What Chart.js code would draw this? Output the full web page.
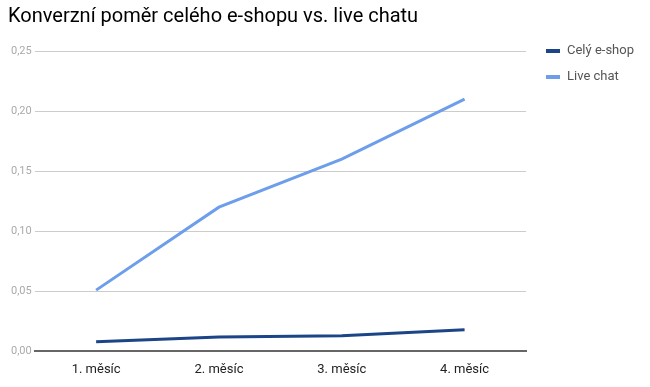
<!DOCTYPE html>
<html>
<head>
<meta charset="utf-8">
<script src="https://cdn.jsdelivr.net/npm/chart.js@4"></script>
<style>
  html, body { margin: 0; padding: 0; background: #fff; }
  #wrap { width: 650px; height: 387px; }
</style>
</head>
<body>
<div id="wrap"><canvas id="chart"></canvas></div>
<script>
// data
const mesice = ["1. měsíc", "2. měsíc", "3. měsíc", "4. měsíc"];
const celyEshop = [0.008, 0.012, 0.013, 0.018];
const liveChat = [0.051, 0.12, 0.16, 0.21];
const yTicks = [0, 0.05, 0.10, 0.15, 0.20, 0.25];

// legenda vpravo, vykreslena rucne
const pravaLegenda = {
    id: "pravaLegenda",
    afterDraw(chart) {
        const c = chart.ctx;
        c.save();
        c.font = "13px Roboto";
        c.textBaseline = "middle";
        chart.data.datasets.forEach((ds, i) => {
            const y = 51 + i * 26;
            c.fillStyle = ds.borderColor;
            c.fillRect(546, y - 2, 14, 4);
            c.fillStyle = "#555";
            c.fillText(ds.label, 567, y);
        });
        c.restore();
    }
};

const ctx = document.getElementById("chart").getContext("2d");

new Chart(ctx, {
    type: "line",
    data: {
        labels: mesice,
        datasets: [{
            label: "Celý e-shop",
            data: celyEshop,
            borderColor: "#1c4587",
            borderWidth: 3,
            pointRadius: 0,
            tension: 0
        }, {
            label: "Live chat",
            data: liveChat,
            borderColor: "#6d9eeb",
            borderWidth: 3,
            pointRadius: 0,
            tension: 0
        }]
    },
    options: {
        responsive: true,
        maintainAspectRatio: false,
        animation: false,
        layout: { padding: { left: 8, right: 124, top: 0, bottom: 6 } },
        plugins: {
            legend: { display: false },
            tooltip: { enabled: false },
            title: {
                display: true,
                text: "Konverzní poměr celého e-shopu vs. live chatu",
                align: "start",
                color: "#000",
                font: { family: "Roboto", size: 20, weight: "normal" },
                padding: { top: 5, bottom: 22 }
            }
        },
        scales: {
            x: {
                offset: true,
                grid: { display: false, offset: true },
                border: { display: true, color: "#666", width: 2 },
                ticks: { color: "#222", font: { family: "Roboto", size: 13 }, padding: 3 }
            },
            y: {
                min: 0,
                max: 0.25,
                afterBuildTicks: axis => { axis.ticks = yTicks.map(v => ({ value: v })); },
                border: { display: false },
                grid: {
                    color: c => c.tick && c.tick.value === 0 ? "transparent" : "#cccccc",
                    drawTicks: false
                },
                ticks: {
                    color: "#aaa",
                    font: { family: "Roboto", size: 11 },
                    padding: 3,
                    callback: v => v.toFixed(2).replace(".", ",")
                }
            }
        }
    },
    plugins: [pravaLegenda]
});
</script>
</body>
</html>
